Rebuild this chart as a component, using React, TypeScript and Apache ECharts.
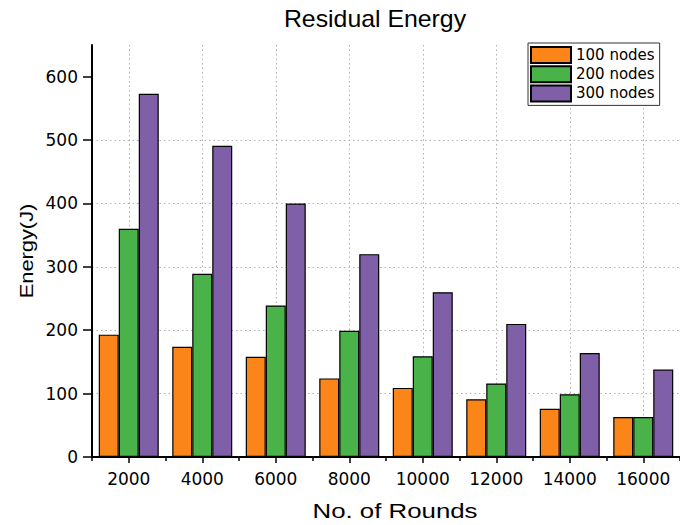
import React, { useEffect, useRef } from "react";
import * as echarts from "echarts";

const categories = ["2000", "4000", "6000", "8000", "10000", "12000", "14000", "16000"];
const seriesNames = ["100 nodes", "200 nodes", "300 nodes"];
const nodes100 = [193, 174, 158, 124, 109, 91, 76, 63];
const nodes200 = [360, 289, 239, 199, 159, 116, 99, 63];
const nodes300 = [573, 491, 400, 320, 260, 210, 164, 138];
const yTicks = [0, 100, 200, 300, 400, 500, 600];
const colors = ["#FB8519", "#49B34A", "#7F5FA8"];

const halfSlots = categories.flatMap((c) => [c + "-L", c + "-R"]);

export default function App() {
  const ref = useRef<HTMLDivElement>(null);
  useEffect(() => {
    if (!ref.current) return;
    const chart = echarts.init(ref.current, undefined, { renderer: "svg" });
    const labelFont = "DejaVu Sans";
    const option: any = {
      animation: false,
      backgroundColor: "#ffffff",
      grid: { left: 92, top: 45, width: 592, height: 412, containLabel: false },
      legend: {
        orient: "vertical",
        left: 528,
        top: 43,
        icon: "rect",
        itemWidth: 40,
        itemHeight: 16,
        itemGap: 1.2,
        padding: [3, 5, 3, 2],
        borderColor: "#333",
        borderWidth: 1,
        backgroundColor: "#fff",
        data: seriesNames,
        textStyle: { fontFamily: labelFont, fontSize: 15, lineHeight: 16, color: "#000" },
      },
      graphic: [
        {
          type: "text",
          x: 375,
          y: 19,
          scaleX: 1.08,
          style: {
            text: "Residual Energy",
            font: "23px 'Liberation Sans'",
            fill: "#000",
            textAlign: "center",
            textVerticalAlign: "middle",
          },
        },
        {
          type: "text",
          x: 395,
          y: 511,
          scaleX: 1.23,
          style: {
            text: "No. of Rounds",
            font: "21px 'Liberation Sans'",
            fill: "#000",
            textAlign: "center",
            textVerticalAlign: "middle",
          },
        },
        {
          type: "text",
          x: 26,
          y: 251,
          rotation: Math.PI / 2,
          scaleX: 1.15,
          style: {
            text: "Energy(J)",
            font: "19px 'Liberation Sans'",
            fill: "#000",
            textAlign: "center",
            textVerticalAlign: "middle",
          },
        },
      ],
      xAxis: [
        {
          type: "category",
          data: categories,
          position: "bottom",
          axisLine: { show: true, lineStyle: { color: "#000", width: 2 } },
          axisTick: { show: true, alignWithLabel: true, length: 6, lineStyle: { color: "#000", width: 1.5 } },
          axisLabel: { fontFamily: labelFont, fontSize: 17, color: "#000", margin: 13 },
          splitLine: { show: false },
        },
        {
          type: "category",
          data: categories,
          position: "bottom",
          axisLine: { show: false },
          axisTick: { show: true, alignWithLabel: false, length: 4, lineStyle: { color: "#000", width: 1.5 } },
          axisLabel: { show: false },
          splitLine: { show: false },
        },
        {
          type: "category",
          data: halfSlots,
          position: "bottom",
          axisLine: { show: false },
          axisTick: { show: false },
          axisLabel: { show: false },
          splitLine: {
            show: true,
            interval: (i: number) => i % 2 === 1,
            lineStyle: { color: "#b0b0b0", type: [1.5, 3], width: 1 },
          },
        },
      ],
      yAxis: [
        {
          type: "value",
          min: 0,
          max: 650,
          interval: 100,
          axisLine: { show: true, lineStyle: { color: "#000", width: 2 } },
          axisTick: { show: true, customValues: yTicks, length: 9, lineStyle: { color: "#000", width: 1.5 } },
          axisLabel: {
            customValues: yTicks,
            fontFamily: labelFont,
            fontSize: 17,
            color: "#000",
            margin: 14,
          },
          splitLine: {
            show: true,
            showMinLine: false,
            showMaxLine: false,
            lineStyle: { color: "#b0b0b0", type: [1.5, 3], width: 1 },
          },
        },
        {
          type: "value",
          min: 0,
          max: 650,
          interval: 50,
          axisLine: { show: false },
          axisTick: { show: true, length: 5, lineStyle: { color: "#000", width: 1.5 } },
          axisLabel: { show: false },
          splitLine: { show: false },
        },
      ],
      series: [nodes100, nodes200, nodes300].map((d, i) => ({
        name: seriesNames[i],
        type: "bar",
        xAxisIndex: 0,
        yAxisIndex: 0,
        data: d,
        barWidth: 20,
        barGap: "0%",
        itemStyle: { color: colors[i], borderColor: "#000", borderWidth: 1.2 },
      })),
    };
    chart.setOption(option);
    return () => chart.dispose();
  }, []);
  return (
    <div
      ref={ref}
      style={{ position: "fixed", left: 0, top: 0, width: 680, height: 525 }}
    />
  );
}
